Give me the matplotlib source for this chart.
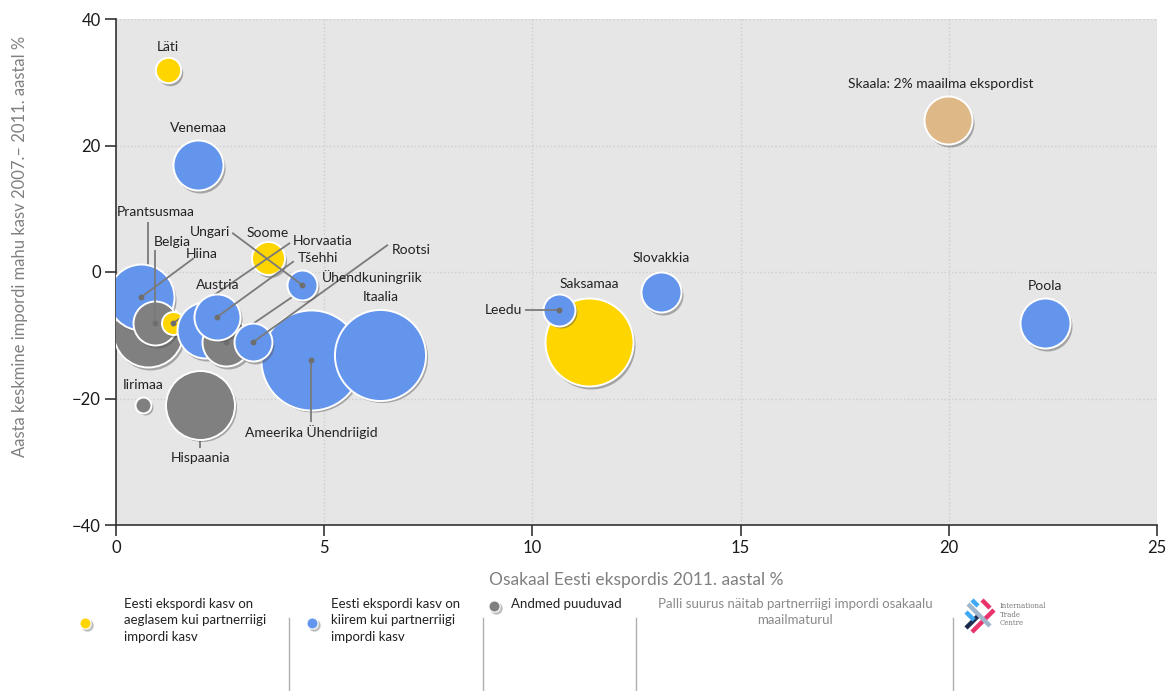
import numpy as np
import matplotlib.pyplot as plt
from matplotlib.lines import Line2D
from matplotlib import transforms

plt.rcParams['font.family'] = ['Lato', 'DejaVu Sans']

# --- data (draw order matters: later bubbles sit on top) ---
countries = ['Soome', 'Läti', 'Venemaa', 'Prantsusmaa', 'Hiina', 'Belgia', 'Horvaatia',
             'Austria', 'Ühendkuningriik', 'Tšehhi', 'Ameerika Ühendriigid', 'Rootsi',
             'Itaalia', 'Ungari', 'Iirimaa', 'Hispaania', 'Saksamaa', 'Leedu',
             'Slovakkia', 'Poola', 'Skaala: 2% maailma ekspordist']
export_share = [3.65, 1.25, 1.97, 0.77, 0.60, 0.94, 1.37,
                2.14, 2.64, 2.43, 4.68, 3.29,
                6.34, 4.47, 0.65, 2.02, 11.36, 10.64,
                13.09, 22.31, 19.98]
import_growth = [2.2, 31.9, 16.9, -9.5, -4.0, -8.1, -8.1,
                 -9.2, -11.1, -7.1, -13.9, -11.1,
                 -13.1, -2.05, -21.0, -21.0, -11.1, -6.0,
                 -3.2, -8.1, 24.0]
world_import_share = [0.95, 0.56, 2.17, 4.25, 3.78, 1.68, 0.46,
                      2.72, 2.0, 1.84, 8.7, 1.25,
                      7.2, 0.78, 0.22, 4.13, 6.72, 0.89,
                      1.39, 2.17, 2.0]
group = ['slow', 'slow', 'fast', 'na', 'fast', 'na', 'slow',
         'fast', 'na', 'fast', 'fast', 'fast',
         'fast', 'fast', 'na', 'na', 'slow', 'fast',
         'fast', 'fast', 'scale']

colors = {'slow': '#FFD500', 'fast': '#6495ED', 'na': '#808080', 'scale': '#DEB887'}

# label text positions (data coords) and connector start points
label_pos = {
    'Läti': (1.25, 35.5), 'Venemaa': (1.97, 22.8), 'Prantsusmaa': (0.95, 9.5),
    'Belgia': (1.35, 4.7), 'Hiina': (2.05, 2.8), 'Ungari': (2.27, 6.3),
    'Soome': (3.65, 6.1), 'Horvaatia': (4.97, 4.9), 'Tšehhi': (4.85, 2.2),
    'Ühendkuningriik': (6.15, -0.8), 'Rootsi': (7.1, 3.5), 'Austria': (2.45, -2.1),
    'Itaalia': (6.36, -4.0), 'Ameerika Ühendriigid': (4.7, -25.3),
    'Iirimaa': (0.65, -17.9), 'Hispaania': (2.02, -29.4), 'Leedu': (9.3, -6.0),
    'Saksamaa': (11.36, -1.9), 'Slovakkia': (13.09, 2.2), 'Poola': (22.31, -2.2),
    'Skaala: 2% maailma ekspordist': (19.8, 29.7),
}
connector_from = {
    'Prantsusmaa': (0.77, 7.9), 'Belgia': (0.94, 3.5), 'Hiina': (1.87, 2.2),
    'Ungari': (2.79, 6.2), 'Horvaatia': (4.18, 4.6), 'Tšehhi': (4.27, 1.7),
    'Ühendkuningriik': (4.80, -1.4), 'Rootsi': (6.53, 4.3),
    'Ameerika Ühendriigid': (4.68, -23.7), 'Hispaania': (2.02, -27.8),
    'Leedu': (9.82, -6.0),
}
behind_bubble = {'Hispaania'}

W, H, DPI = 1168, 691, 100
fig = plt.figure(figsize=(W / DPI, H / DPI), dpi=DPI)
ax = fig.add_axes([116 / W, 1 - 525 / H, (1157 - 116) / W, (525 - 19) / H])
ax.set_facecolor('#E6E6E6')

shadow = transforms.offset_copy(ax.transData, fig=fig, x=2, y=-2.5, units='dots')

for i, name in enumerate(countries):
    r_px = 24 * np.sqrt(world_import_share[i] / 2)
    s = (2 * r_px * 72 / DPI) ** 2
    z = 3 + i
    ax.scatter(export_share[i], import_growth[i], s=s, color='#555555', alpha=0.45,
               transform=shadow, zorder=z - 0.2, linewidths=0)
    ax.scatter(export_share[i], import_growth[i], s=s, color=colors[group[i]],
               edgecolors='white', linewidths=1.4, zorder=z)
    if name in connector_from:
        x0, y0 = connector_from[name]
        lz = z - 0.3 if name in behind_bubble else z + 0.5
        ax.plot([x0, export_share[i]], [y0, import_growth[i]], color='#7a7a7a',
                lw=1.3, zorder=lz, solid_capstyle='butt')
        if name not in behind_bubble:
            ax.plot(export_share[i], import_growth[i], 'o', color='#6e6e6e', ms=3.2,
                    zorder=lz)

for name, (tx, ty) in label_pos.items():
    ax.text(tx, ty, name, fontsize=10, color='#222222', ha='center', va='center',
            zorder=100)

ax.set_xlim(0, 25)
ax.set_ylim(-40, 40)
ax.set_xticks([0, 5, 10, 15, 20, 25])
ax.set_yticks([-40, -20, 0, 20, 40])
ax.set_yticklabels(['\u221240', '\u221220', '0', '20', '40'])
ax.grid(True, color='#cdcdcd', linestyle=':', linewidth=1)
ax.set_axisbelow(True)
for side in ['top', 'right']:
    ax.spines[side].set_visible(False)
for side in ['left', 'bottom']:
    ax.spines[side].set_color('#333333')
    ax.spines[side].set_linewidth(1.2)
ax.tick_params(axis='both', direction='out', length=8, width=1.2, color='#333333',
               labelsize=12, labelcolor='#1a1a1a', pad=3)

ax.set_xlabel('Osakaal Eesti ekspordis 2011. aastal %', fontsize=12.5, color='#808080')
ax.xaxis.set_label_coords(0.5, -0.093)
ax.set_ylabel('Aasta keskmine impordi mahu kasv 2007.– 2011. aastal %', fontsize=12,
              color='#808080')
ax.yaxis.set_label_coords(-0.085, 0.55)

# --- bottom legend ---
def fx(px):
    return px / W


def fy(py):
    return 1 - py / H


for sx in [289, 483, 636, 953]:
    fig.add_artist(Line2D([fx(sx), fx(sx)], [fy(618), fy(690)], color='#b0b0b0', lw=1))

legend_items = [
    (85, 623, colors['slow'], 124, 'Eesti ekspordi kasv on\naeglasem kui partnerriigi\nimpordi kasv'),
    (312, 623, colors['fast'], 331, 'Eesti ekspordi kasv on\nkiirem kui partnerriigi\nimpordi kasv'),
    (494, 606, colors['na'], 511, 'Andmed puuduvad'),
]
for dx, dy, c, tx, txt in legend_items:
    fig.add_artist(Line2D([fx(dx + 1.5)], [fy(dy + 1.5)], marker='o', ms=8, color='#999999',
                          alpha=0.5, lw=0))
    fig.add_artist(Line2D([fx(dx)], [fy(dy)], marker='o', ms=8, color=c,
                          markeredgecolor='white', markeredgewidth=0.8, lw=0))
    fig.text(fx(tx), fy(598), txt, fontsize=9.5, color='#222222', va='top', ha='left',
             linespacing=1.45)

fig.text(fx(795), fy(598), 'Palli suurus näitab partnerriigi impordi osakaalu\nmaailmaturul',
         fontsize=9.5, color='#8a8a8a', va='top', ha='center', linespacing=1.45)

# small ITC logo
logo_bars = [
    ((966, 628), (980, 614), '#1d2b4f'),
    ((972, 632), (994, 610), '#e8336b'),
    ((968, 604), (990, 626), '#9fb6cc'),
    ((966, 612), (974, 620), '#3fa9f5'),
    ((982, 600), (990, 608), '#e8336b'),
    ((972, 600), (978, 606), '#3fa9f5'),
]
for (x0, y0), (x1, y1), c in logo_bars:
    fig.add_artist(Line2D([fx(x0), fx(x1)], [fy(y0), fy(y1)], color=c, lw=3.2,
                          solid_capstyle='butt'))
fig.text(fx(1000), fy(602), 'International\nTrade\nCentre', fontsize=5, color='#777777',
         family='DejaVu Serif', va='top', ha='left', linespacing=1.1)

fig.savefig('out.png', dpi=DPI, facecolor='white')
